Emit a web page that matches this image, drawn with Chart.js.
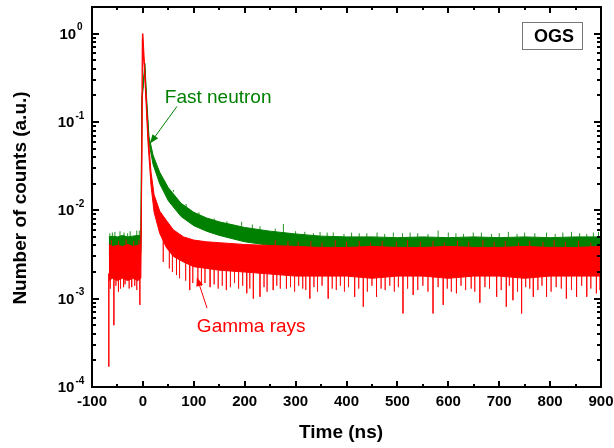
<!DOCTYPE html>
<html>
<head>
<meta charset="utf-8">
<script src="https://cdn.jsdelivr.net/npm/chart.js@4.4.1/dist/chart.umd.min.js"></script>
<style>
  html, body { margin: 0; padding: 0; background: #fff; }
  #chart { display: block; }
</style>
</head>
<body>
<canvas id="chart" width="614" height="448"></canvas>
<script>
// axis ticks
const xTicks = [-100, 0, 100, 200, 300, 400, 500, 600, 700, 800, 900];
const yTickExponents = [-4, -3, -2, -1, 0];

// fast neutron trace (green): upper / lower edge of the noise band
const neutronTime = [-67, -60, -50, -40, -30, -20, -10, -4, -2, 4, 7, 12, 20, 33, 50, 75, 100, 125, 150, 200, 250, 300,
  350, 400, 450, 500, 550, 600, 650, 700, 750, 800, 850, 900];
const neutronHigh = [5.0e-3, 5.1e-3, 5.0e-3, 5.2e-3, 5.0e-3, 5.1e-3, 5.2e-3, 5.1e-3,
  0.19, 0.46, 0.2, 0.068, 0.042, 0.027, 0.018, 0.012, 0.0095, 0.0082, 0.0074, 0.0064, 0.0058, 0.0054,
  0.0051, 0.0050, 0.0050, 0.0049, 0.0050, 0.0049, 0.0050, 0.0049, 0.0050, 0.0049, 0.0050, 0.0050];
const neutronLow = [3.2e-3, 3.3e-3, 3.2e-3, 3.3e-3, 3.2e-3, 3.3e-3, 3.2e-3, 3.3e-3,
  0.17, 0.40, 0.17, 0.058, 0.033, 0.020, 0.0128, 0.0085, 0.0067, 0.0058, 0.0052, 0.0044, 0.0040, 0.0037,
  0.0035, 0.0035, 0.0036, 0.0035, 0.0035, 0.0036, 0.0035, 0.0035, 0.0036, 0.0035, 0.0035, 0.0035];
// upward noise spikes of the neutron trace
const neutronSpikeTime = [-65, -60, -55, -45, -37, -30, -25, -12, -7, 60, 85, 110, 140, 165, 194, 215, 230, 260, 276, 300,
  318, 335, 348, 362, 374, 395, 410, 425, 440, 460, 475, 492, 510, 525, 540, 560, 580, 600, 615, 630, 649, 665, 685, 700,
  718, 735, 750, 770, 793, 810, 825, 842, 858, 872, 885, 895];
const neutronSpikeValue = [5.5e-3, 5.6e-3, 5.7e-3, 5.8e-3, 5.6e-3, 5.5e-3, 5.8e-3, 5.9e-3, 5.9e-3, 0.017, 0.0118, 0.0095,
  0.0081, 0.0075, 7.4e-3, 6.9e-3, 6.6e-3, 6.2e-3, 7.0e-3, 5.8e-3, 5.7e-3, 5.5e-3, 5.7e-3, 5.6e-3, 5.6e-3, 5.4e-3, 5.6e-3,
  5.5e-3, 5.5e-3, 5.6e-3, 5.4e-3, 5.6e-3, 5.5e-3, 5.6e-3, 5.5e-3, 5.4e-3, 5.9e-3, 5.6e-3, 5.5e-3, 5.4e-3, 5.6e-3, 5.6e-3,
  5.4e-3, 5.5e-3, 5.7e-3, 5.4e-3, 5.6e-3, 5.5e-3, 5.6e-3, 5.4e-3, 5.6e-3, 5.7e-3, 5.5e-3, 5.4e-3, 5.6e-3, 5.7e-3];

// gamma ray trace (red)
const gammaTime = [-67, -60, -50, -40, -30, -20, -10, -4, -2, -1, 0, 4, 10, 16, 22, 33, 46, 60, 80, 100, 125, 150, 200, 250, 300,
  350, 400, 450, 500, 550, 600, 650, 700, 750, 800, 850, 900];
const gammaHigh = [4.1e-3, 3.9e-3, 4.0e-3, 3.9e-3, 4.1e-3, 3.9e-3, 4.0e-3, 4.1e-3,
  0.045, 0.98, 1.0, 0.36, 0.075, 0.027, 0.015, 0.0098, 0.0077, 0.006, 0.005, 0.0046, 0.0044, 0.0043, 0.0041, 0.0040, 0.0039,
  0.0038, 0.0038, 0.0039, 0.0038, 0.0038, 0.0039, 0.0038, 0.0038, 0.0039, 0.0038, 0.0038, 0.0039];
const gammaLow = [1.6e-3, 1.7e-3, 1.6e-3, 1.7e-3, 1.6e-3, 1.7e-3, 1.6e-3, 1.7e-3,
  0.038, 0.85, 0.85, 0.3, 0.058, 0.019, 0.0095, 0.0055, 0.0038, 0.003, 0.0026, 0.0023, 0.0022, 0.0021, 0.0020, 0.0019, 0.0018,
  0.0018, 0.0018, 0.0017, 0.0018, 0.0018, 0.0017, 0.0018, 0.0018, 0.0017, 0.0018, 0.0018, 0.0018];
// deep downward noise spikes of the gamma trace
const gammaSpikeTime = [-67, -57, -48, -38, -22, -6, 66, 92, 132, 164, 204, 217, 230, 256, 282, 328, 364, 416, 433, 459,
  511, 531, 570, 590, 616, 662, 695, 714, 727, 744, 767, 793, 832, 852, 872, 891];
const gammaSpikeValue = [1.7e-4, 5e-4, 1.2e-3, 1.35e-3, 1.35e-3, 8.5e-4, 1.85e-3, 1.25e-3, 1.35e-3, 1.25e-3, 1.15e-3, 1.0e-3,
  1.05e-3, 1.25e-3, 1.3e-3, 1.0e-3, 1.0e-3, 1.05e-3, 8.1e-4, 1.05e-3, 6.8e-4, 1.1e-3, 6.8e-4, 8.5e-4, 1.15e-3, 9e-4,
  1.05e-3, 8.1e-4, 9.6e-4, 6.8e-4, 1.05e-3, 1.05e-3, 1.0e-3, 1.05e-3, 1.05e-3, 1.15e-3];
// shallow downward spikes (ragged lower edge)
const gammaFringeTime = [-64, -53, -44, -35, -27, -16, -12, 40, 52, 58, 72, 84, 98, 108, 115, 122, 140, 148, 156, 172, 180,
  188, 196, 210, 238, 244, 263, 270, 290, 298, 306, 314, 320, 336, 343, 352, 372, 380, 388, 396, 404, 424, 441, 450, 468,
  476, 485, 494, 502, 520, 540, 550, 560, 580, 598, 606, 625, 634, 645, 652, 672, 681, 704, 720, 736, 752, 760, 776, 784,
  802, 812, 822, 842, 862, 880, 898];
const gammaFringeValue = [1.3e-3, 1.4e-3, 1.3e-3, 1.45e-3, 1.3e-3, 1.4e-3, 1.25e-3, 2.6e-3, 2.2e-3, 2.0e-3, 1.7e-3, 1.6e-3,
  1.5e-3, 1.6e-3, 1.4e-3, 1.5e-3, 1.45e-3, 1.3e-3, 1.4e-3, 1.35e-3, 1.5e-3, 1.3e-3, 1.4e-3, 1.3e-3, 1.35e-3, 1.2e-3,
  1.4e-3, 1.3e-3, 1.35e-3, 1.2e-3, 1.4e-3, 1.3e-3, 1.25e-3, 1.35e-3, 1.2e-3, 1.4e-3, 1.3e-3, 1.25e-3, 1.4e-3, 1.2e-3,
  1.35e-3, 1.3e-3, 1.2e-3, 1.4e-3, 1.3e-3, 1.25e-3, 1.4e-3, 1.2e-3, 1.35e-3, 1.3e-3, 1.25e-3, 1.4e-3, 1.2e-3, 1.35e-3,
  1.3e-3, 1.2e-3, 1.4e-3, 1.25e-3, 1.3e-3, 1.2e-3, 1.35e-3, 1.3e-3, 1.25e-3, 1.4e-3, 1.2e-3, 1.35e-3, 1.3e-3, 1.25e-3,
  1.4e-3, 1.2e-3, 1.35e-3, 1.3e-3, 1.25e-3, 1.4e-3, 1.3e-3, 1.25e-3];
// upward spikes of the gamma trace reaching into the green band
const gammaUpTime = [-62, -48, -33, -18, -8, 260, 285, 305, 330, 352, 378, 400, 425, 447, 470, 498, 520, 545, 570, 592, 618,
  640, 668, 690, 712, 738, 760, 786, 808, 830, 856, 880];
const gammaUpValue = [4.6e-3, 4.5e-3, 4.7e-3, 4.5e-3, 4.6e-3, 4.6e-3, 4.5e-3, 4.4e-3, 4.5e-3, 4.3e-3, 4.6e-3, 4.4e-3, 4.5e-3,
  4.3e-3, 4.5e-3, 4.4e-3, 4.6e-3, 4.4e-3, 4.5e-3, 4.3e-3, 4.5e-3, 4.4e-3, 4.6e-3, 4.4e-3, 4.5e-3, 4.3e-3, 4.5e-3, 4.4e-3,
  4.6e-3, 4.4e-3, 4.5e-3, 4.3e-3];

const GREEN = 'rgb(0,128,0)';
const RED = 'rgb(255,0,0)';
const FONT = '"Liberation Sans", Arial, sans-serif';

function pts(t, v) {
  return t.map((x, i) => ({ x: x, y: v[i] }));
}

// vertical spike segments starting inside the band (scale = factor applied to band edge)
function spikes(t, v, bandT, bandV, scale) {
  const out = [];
  t.forEach((x, i) => {
    let j = 0;
    while (j < bandT.length - 1 && bandT[j + 1] <= x) j++;
    out.push({ x: x, y: bandV[j] * scale });
    out.push({ x: x, y: v[i] });
    out.push({ x: x, y: null });
  });
  return out;
}

function arrow(ctx, x1, y1, x2, y2, color) {
  const a = Math.atan2(y2 - y1, x2 - x1);
  const len = 9, half = 3.5;
  ctx.strokeStyle = color;
  ctx.fillStyle = color;
  ctx.lineWidth = 1;
  ctx.beginPath();
  ctx.moveTo(x1, y1);
  ctx.lineTo(x2 - Math.cos(a) * len * 0.8, y2 - Math.sin(a) * len * 0.8);
  ctx.stroke();
  ctx.beginPath();
  ctx.moveTo(x2, y2);
  ctx.lineTo(x2 - Math.cos(a) * len - Math.sin(a) * half, y2 - Math.sin(a) * len + Math.cos(a) * half);
  ctx.lineTo(x2 - Math.cos(a) * len + Math.sin(a) * half, y2 - Math.sin(a) * len - Math.cos(a) * half);
  ctx.closePath();
  ctx.fill();
}

const framePlugin = {
  id: 'frame',
  afterDraw(chart) {
    const ctx = chart.ctx;
    const ca = chart.chartArea;
    const xs = chart.scales.x, ys = chart.scales.y;
    ctx.save();

    // annotations
    ctx.font = '19px ' + FONT;
    ctx.textBaseline = 'middle';
    ctx.textAlign = 'left';
    ctx.fillStyle = GREEN;
    ctx.fillText('Fast neutron', xs.getPixelForValue(43), ys.getPixelForValue(0.19));
    arrow(ctx, xs.getPixelForValue(67), ys.getPixelForValue(0.15), xs.getPixelForValue(14), ys.getPixelForValue(0.057), GREEN);
    ctx.fillStyle = RED;
    ctx.fillText('Gamma rays', xs.getPixelForValue(106), ys.getPixelForValue(4.8e-4));
    arrow(ctx, xs.getPixelForValue(126), ys.getPixelForValue(7.8e-4), xs.getPixelForValue(106), ys.getPixelForValue(1.75e-3), RED);

    // OGS box
    ctx.fillStyle = '#fff';
    ctx.fillRect(522, 22, 60, 27);
    ctx.strokeStyle = '#777';
    ctx.lineWidth = 1;
    ctx.strokeRect(522.5, 22.5, 60, 27);
    ctx.fillStyle = '#000';
    ctx.font = 'bold 18px ' + FONT;
    ctx.textAlign = 'center';
    ctx.fillText('OGS', 554, 37);

    // frame
    ctx.strokeStyle = '#000';
    ctx.lineWidth = 2;
    ctx.strokeRect(ca.left, ca.top, ca.right - ca.left, ca.bottom - ca.top);

    // x ticks
    ctx.lineWidth = 2;
    ctx.beginPath();
    xTicks.forEach((v, i) => {
      const px = Math.round(xs.getPixelForValue(v));
      ctx.moveTo(px, ca.bottom); ctx.lineTo(px, ca.bottom - 6);
      ctx.moveTo(px, ca.top); ctx.lineTo(px, ca.top + 6);
      if (i < xTicks.length - 1) {
        const pm = Math.round(xs.getPixelForValue(v + 50));
        ctx.moveTo(pm, ca.bottom); ctx.lineTo(pm, ca.bottom - 3);
        ctx.moveTo(pm, ca.top); ctx.lineTo(pm, ca.top + 3);
      }
    });
    // y ticks
    yTickExponents.forEach((e) => {
      const py = Math.round(ys.getPixelForValue(Math.pow(10, e)));
      ctx.moveTo(ca.left, py); ctx.lineTo(ca.left + 7, py);
      ctx.moveTo(ca.right, py); ctx.lineTo(ca.right - 7, py);
      for (let m = 2; m <= 9; m++) {
        const v = m * Math.pow(10, e);
        if (v > ys.max) break;
        const pm = Math.round(ys.getPixelForValue(v));
        ctx.moveTo(ca.left, pm); ctx.lineTo(ca.left + 4, pm);
        ctx.moveTo(ca.right, pm); ctx.lineTo(ca.right - 4, pm);
      }
    });
    ctx.stroke();

    // tick labels
    ctx.fillStyle = '#000';
    ctx.font = 'bold 15px ' + FONT;
    ctx.textAlign = 'center';
    ctx.textBaseline = 'middle';
    xTicks.forEach((v) => {
      ctx.fillText(String(v), xs.getPixelForValue(v), 402);
    });
    yTickExponents.forEach((e) => {
      const py = ys.getPixelForValue(Math.pow(10, e));
      ctx.font = 'bold 15px ' + FONT;
      const wBase = ctx.measureText('10').width;
      ctx.font = 'bold 10px ' + FONT;
      const wExp = ctx.measureText(String(e)).width;
      const x0 = 71 - (wBase + wExp + 1) / 2;
      ctx.textAlign = 'left';
      ctx.font = 'bold 15px ' + FONT;
      ctx.fillText('10', x0, py + 1);
      ctx.font = 'bold 10px ' + FONT;
      ctx.fillText(String(e), x0 + wBase + 1, py - 6);
    });

    // axis titles
    ctx.font = 'bold 19px ' + FONT;
    ctx.textAlign = 'center';
    ctx.fillText('Time (ns)', 341, 433);
    ctx.translate(21, 198);
    ctx.rotate(-Math.PI / 2);
    ctx.fillText('Number of counts (a.u.)', 0, 0);
    ctx.restore();
  }
};

const line = { borderWidth: 1, pointRadius: 0, tension: 0 };

new Chart(document.getElementById('chart'), {
  type: 'line',
  data: {
    datasets: [
      Object.assign({ label: 'neutron high', data: pts(neutronTime, neutronHigh), borderColor: GREEN, fill: false, order: 6 }, line),
      Object.assign({ label: 'neutron low', data: pts(neutronTime, neutronLow), borderColor: GREEN,
        backgroundColor: GREEN, fill: { target: 0 }, order: 5 }, line),
      Object.assign({ label: 'neutron spikes', data: spikes(neutronSpikeTime, neutronSpikeValue, neutronTime, neutronHigh, 0.9),
        borderColor: 'rgba(0,128,0,0.85)', fill: false, spanGaps: false, order: 7 }, line),
      Object.assign({ label: 'gamma high', data: pts(gammaTime, gammaHigh), borderColor: RED, fill: false, order: 2 }, line),
      Object.assign({ label: 'gamma low', data: pts(gammaTime, gammaLow), borderColor: RED,
        backgroundColor: RED, fill: { target: 3 }, order: 1 }, line),
      Object.assign({ label: 'gamma spikes', data: spikes(gammaSpikeTime, gammaSpikeValue, gammaTime, gammaLow, 1.2),
        borderColor: 'rgba(255,0,0,0.8)', fill: false, spanGaps: false, order: 3 }, line),
      Object.assign({ label: 'gamma fringe', data: spikes(gammaFringeTime, gammaFringeValue, gammaTime, gammaLow, 1.2),
        borderColor: 'rgba(255,0,0,0.6)', fill: false, spanGaps: false, order: 3 }, line),
      Object.assign({ label: 'gamma up', data: spikes(gammaUpTime, gammaUpValue, gammaTime, gammaHigh, 0.85),
        borderColor: 'rgba(255,0,0,0.85)', fill: false, spanGaps: false, order: 4 }, line)
    ]
  },
  options: {
    responsive: false,
    animation: false,
    layout: { padding: { left: 92, right: 13, top: 7, bottom: 61 } },
    plugins: { legend: { display: false }, tooltip: { enabled: false } },
    scales: {
      x: { type: 'linear', min: -100, max: 900, display: false },
      y: { type: 'logarithmic', min: 1e-4, max: 2, display: false }
    }
  },
  plugins: [framePlugin]
});
</script>
</body>
</html>
